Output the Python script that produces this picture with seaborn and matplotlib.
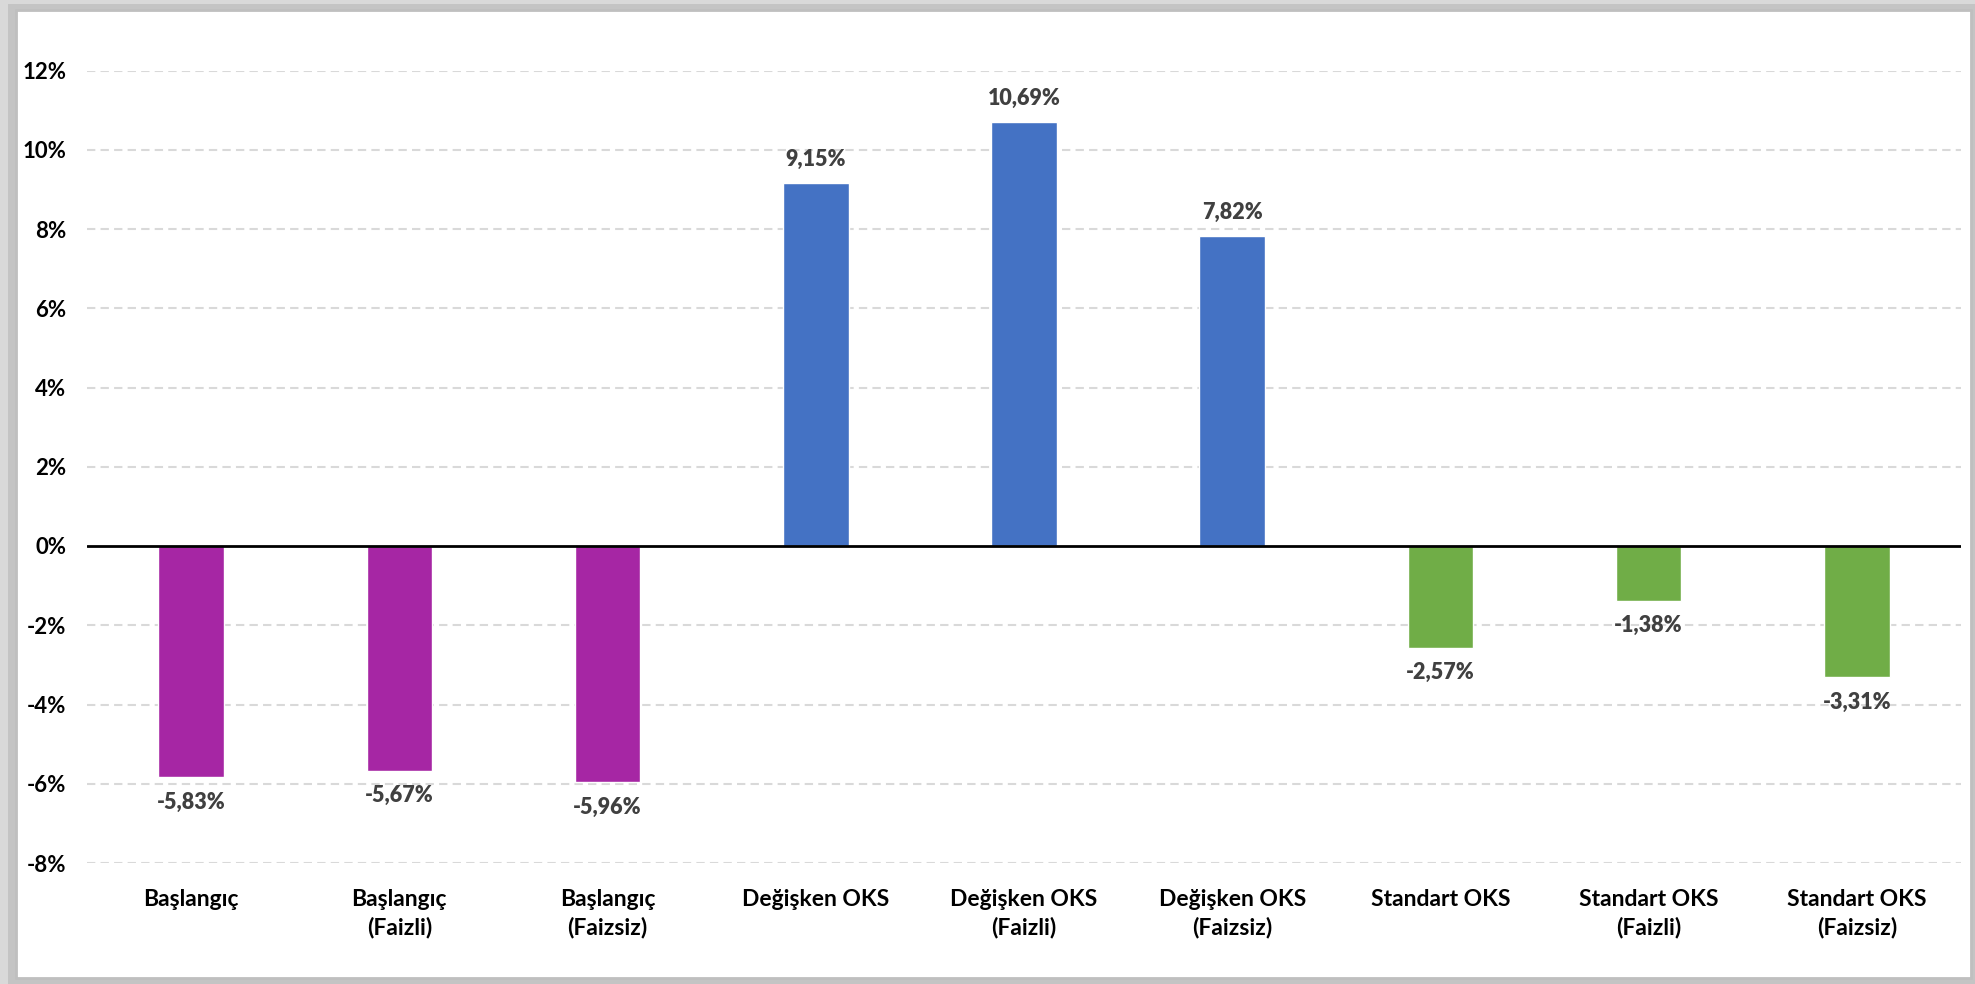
import matplotlib
matplotlib.use("Agg")
import matplotlib.pyplot as plt
import seaborn as sns
import pandas as pd
from matplotlib.patches import Rectangle

categories = ["Başlangıç", "Başlangıç\n(Faizli)", "Başlangıç\n(Faizsiz)",
              "Değişken OKS", "Değişken OKS\n(Faizli)", "Değişken OKS\n(Faizsiz)",
              "Standart OKS", "Standart OKS\n(Faizli)", "Standart OKS\n(Faizsiz)"]
values = [-5.83, -5.67, -5.96, 9.15, 10.69, 7.82, -2.57, -1.38, -3.31]
groups = ["Başlangıç"] * 3 + ["Değişken"] * 3 + ["Standart"] * 3
group_colors = {"Başlangıç": "#A626A4", "Değişken": "#4472C4", "Standart": "#70AD47"}
yticks = [-8, -6, -4, -2, 0, 2, 4, 6, 8, 10, 12]

df = pd.DataFrame({"cat": categories, "val": values, "grp": groups})

sns.set_theme(style="white")
plt.rcParams['font.family'] = ['Lato', 'DejaVu Sans']

fig = plt.figure(figsize=(19.75, 9.84), dpi=100)
fig.patch.set_facecolor("#d9d9d9")
# frame
fig.patches.append(Rectangle((8/1975, 0.0), 1 - 8/1975, 1 - 4/984, transform=fig.transFigure,
                             facecolor="#c4c4c4", edgecolor="none", zorder=-3))
fig.patches.append(Rectangle((16/1975, 6/984), 1 - 20/1975, 1 - 16/984, transform=fig.transFigure,
                             facecolor="white", edgecolor="#bfbfbf", linewidth=2, zorder=-2))

ax = fig.add_axes([87/1975, 1 - 863/984, (1961 - 87)/1975, (863 - 70.5)/984])
ax.set_facecolor("none")

sns.barplot(data=df, x="cat", y="val", hue="grp", palette=group_colors, dodge=False,
            width=0.315, legend=False, ax=ax, order=categories, saturation=1)

ax.set_ylim(-8, 12)
ax.set_xlim(-0.5, 8.5)
ax.set_yticks(yticks)
ax.set_yticklabels([f"{t}%" for t in yticks], fontsize=16, fontweight="bold", color="black")
ax.set_xticks(range(len(categories)))
ax.set_xticklabels(categories, fontsize=16.5, fontweight="bold", color="black", linespacing=1.35)
ax.tick_params(axis="y", length=0, pad=15)
ax.tick_params(axis="x", length=0, pad=19)
ax.set_xlabel("")
ax.set_ylabel("")
for s in ax.spines.values():
    s.set_visible(False)
for t in yticks:
    if t != 0:
        ax.axhline(t, color="#d9d9d9", linestyle=(0, (4, 2.5)), linewidth=1.5, zorder=0)
ax.axhline(0, color="black", linewidth=2, zorder=3)

for i, v in enumerate(values):
    lab = f"{v:.2f}".replace(".", ",") + "%"
    off = 17 if v >= 0 else -18
    ax.annotate(lab, (i, v), xytext=(0, off), textcoords="offset points",
                ha="center", va="center", fontsize=15.5, fontweight="heavy", color="#404040")

fig.savefig("out.png", dpi=100)
